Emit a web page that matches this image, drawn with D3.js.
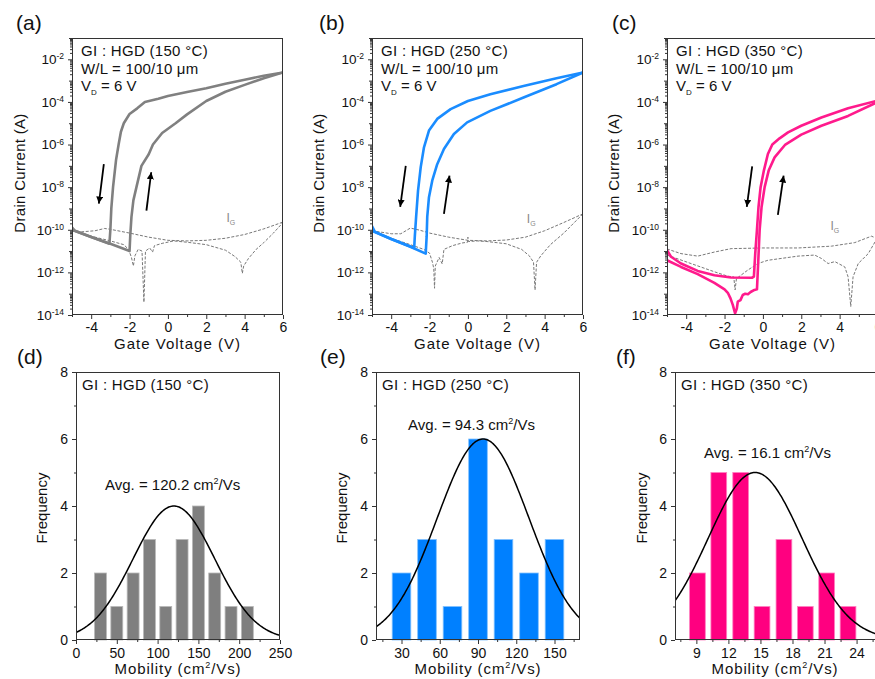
<!DOCTYPE html>
<html><head><meta charset="utf-8">
<script src="https://cdn.jsdelivr.net/npm/d3@7"></script>
<style>
body{margin:0;background:#fff;}
svg{display:block;font-family:"Liberation Sans",Arial,Helvetica,sans-serif;}
</style></head><body>
<svg id="c" width="875" height="679"></svg>
<script>
// ---------- DATA ----------
// Transfer curves: [gate voltage (V), drain current (A)]
const aReverse = [[6,2.4e-3],[5,1.7e-3],[4,1.1e-3],[3,7.2e-4],[2,4.4e-4],[1,2.9e-4],[0,1.9e-4],[-0.5,1.4e-4],[-1.2,1e-4],[-1.6,5e-5],[-2,2.7e-5],[-2.3,1e-5],[-2.45,4e-6],[-2.57,1e-6],[-2.7,2e-7],[-2.86,1e-8],[-2.95,1e-9],[-3.0,1e-10],[-3.05,2.2e-11],[-4,4.6e-11],[-4.85,9e-11],[-5,1.3e-10]];
const aForward = [[-5,1.0e-10],[-4,4.6e-11],[-3,2.2e-11],[-2.0,1.0e-11],[-1.96,6e-11],[-1.9,4e-10],[-1.8,2.4e-9],[-1.64,1e-8],[-1.38,1e-7],[-1.0,3.5e-7],[-0.78,1e-6],[-0.3,3.5e-6],[0.4,1e-5],[1,2.6e-5],[2,1.1e-4],[3,3e-4],[4,6.3e-4],[5,1.3e-3],[6,2.4e-3]];
const aGate1 = [[-5,9e-11],[-4.5,8e-11],[-3.8,9e-11],[-3.3,1.15e-10],[-3,1.05e-10],[-2,7e-11],[-1,4.5e-11],[0,3.2e-11],[1,3e-11],[2,3.2e-11],[3,4e-11],[4,6e-11],[5,1.1e-10],[6,2.3e-10]];
const aGate2 = [[-5,9e-11],[-4,5e-11],[-3,3e-11],[-2.3,2e-11],[-2.05,1.2e-11],[-1.9,5e-12],[-1.8,2e-12],[-1.72,6e-12],[-1.55,1.2e-11],[-1.35,1e-11],[-1.25,4e-14],[-1.17,1e-11],[-0.95,1.4e-11],[-0.8,9e-12],[-0.7,1.8e-11],[-0.3,2.3e-11],[0.3,3e-11],[1,2.6e-11],[2,2e-11],[3,1.1e-11],[3.5,5.5e-12],[3.8,3e-12],[3.88,9e-13],[3.95,2e-12],[4.2,4.5e-12],[4.6,1.2e-11],[5,2.5e-11],[5.5,7e-11],[6,2.2e-10]];

const bReverse = [[6,2.4e-3],[4.62,1.3e-3],[2.9,5.6e-4],[1.17,2.3e-4],[0,1.1e-4],[-0.9,4.6e-5],[-1.6,1.6e-5],[-2.03,4.5e-6],[-2.29,7.4e-7],[-2.46,8.7e-8],[-2.6,6.9e-9],[-2.7,4e-10],[-2.77,4.6e-11],[-2.8,1.4e-11],[-4,3.7e-11],[-4.85,8e-11],[-5,1.5e-10]];
const bForward = [[-5,9e-11],[-4,3.7e-11],[-3,1.6e-11],[-2.2,7.6e-12],[-2.15,5e-11],[-2.12,4e-10],[-2.03,3.4e-9],[-1.86,2e-8],[-1.6,1.2e-7],[-1.25,6.2e-7],[-0.73,3.1e-6],[-0.04,1.1e-5],[1.17,3.8e-5],[2.9,1.6e-4],[4.62,6.8e-4],[6,2.4e-3]];
const bGate1 = [[-5,9e-11],[-4,6.5e-11],[-3.5,6.5e-11],[-3.0,1.2e-10],[-2.5,9.5e-11],[-2,7e-11],[-1,4.5e-11],[0,3.2e-11],[1,3e-11],[2,3.3e-11],[3,4.5e-11],[4,9e-11],[5,2.2e-10],[6,5.6e-10]];
const bGate2 = [[-5,9e-11],[-4,4e-11],[-3,2e-11],[-2.3,1.2e-11],[-2.0,8e-12],[-1.85,3e-12],[-1.78,1.5e-12],[-1.74,1.8e-13],[-1.7,2e-12],[-1.5,5e-12],[-1.34,2.5e-12],[-1.25,1.2e-11],[-0.8,1.8e-11],[-0.3,2.4e-11],[-0.02,2.6e-11],[0,4.5e-11],[0.02,2.8e-11],[0.5,3e-11],[1,2.8e-11],[2,2.2e-11],[2.8,1.2e-11],[3.2,6e-12],[3.42,3e-12],[3.5,1.5e-13],[3.58,3e-12],[3.8,6e-12],[4.3,2e-11],[5,7e-11],[6,5.6e-10]];

const cReverse = [[6,1.2e-4],[5.92,1.12e-4],[4.44,5.1e-5],[3.05,1.86e-5],[2.0,7.6e-6],[1.31,3.7e-6],[0.87,1.95e-6],[0.49,1e-6],[0.26,3.6e-7],[0.05,6e-8],[-0.12,1e-8],[-0.23,1.17e-9],[-0.31,1e-10],[-0.4,7.6e-12],[-0.47,6.3e-13],[-0.57,5.6e-13],[-1.66,5.8e-13],[-2.53,7.4e-13],[-3.4,1.17e-12],[-4.27,2.6e-12],[-4.79,5.4e-12],[-5,1.1e-11]];
const cForward = [[-5,3.7e-12],[-4.27,1.8e-12],[-3.4,8.3e-13],[-2.53,3.2e-13],[-2.0,1.6e-13],[-1.83,1.1e-13],[-1.69,6e-14],[-1.57,3e-14],[-1.45,1.2e-14],[-1.36,2e-14],[-1.31,4.2e-14],[-1.17,5e-14],[-1.05,8.7e-14],[-0.92,1e-13],[-0.78,9.5e-14],[-0.64,1.2e-13],[-0.44,1.5e-13],[-0.31,1.6e-13],[-0.24,3.7e-12],[-0.17,1e-10],[-0.07,1.17e-9],[0.09,1e-8],[0.3,6e-8],[0.61,2.5e-7],[1.17,1e-6],[2.0,2.9e-6],[3.05,7.6e-6],[4.44,2.2e-5],[5.92,9.3e-5],[6,1e-4]];
const cGate1 = [[-5,1.26e-11],[-4.27,7.6e-12],[-3.4,5.8e-12],[-2.53,9e-12],[-1.66,1.3e-11],[0,1.4e-11],[1.83,1.4e-11],[3.57,1.7e-11],[4.79,2.5e-11],[5.66,5e-11],[5.92,4e-11],[6,4.2e-11]];
const cGate2 = [[-5,6.5e-12],[-3.75,2.6e-12],[-2.53,1.07e-12],[-1.83,6.6e-13],[-1.52,6.2e-13],[-1.45,1.5e-13],[-1.38,5.1e-13],[-0.78,1.3e-12],[-0.26,2.6e-12],[0.26,3.7e-12],[1.83,5.8e-12],[2.7,6.5e-12],[3.05,4.5e-12],[3.4,2.6e-12],[3.75,3.2e-12],[4.27,1.8e-12],[4.44,6.2e-13],[4.58,2.5e-14],[4.7,6.2e-13],[4.97,2.6e-12],[5.49,7.6e-12],[5.92,3.5e-11],[6,4e-11]];

// sweep-direction arrows: [from, to] in (V, A)
const aArrows = [[[-3.34,1.2e-7],[-3.6,1.7e-9]],[[-1.12,8e-10],[-0.87,5e-8]]];
const bArrows = [[[-3.24,1e-7],[-3.53,1.2e-9]],[[-1.25,5.6e-10],[-0.96,3.5e-8]]];
const cArrows = [[[-0.56,9.5e-8],[-0.84,1.2e-9]],[[0.78,5e-10],[1.08,3.5e-8]]];

const vTicks = [-4,-2,0,2,4,6];
const vMinor = [-5,-3,-1,1,3,5];
const decadeLabels = [1e-14,1e-12,1e-10,1e-8,1e-6,1e-4,1e-2];
const temps = ["150","250","350"];

// Histograms
const dCenters = [30,50,70,90,110,130,150,170,190,210];
const dCounts  = [2,1,2,3,1,3,4,2,1,1];
const eCenters = [30,50,70,90,110,130,150];
const eCounts  = [2,3,1,6,3,2,3];
const fCenters = [9.1,11.1,13.15,15.15,17.2,19.2,21.2,23.2];
const fCounts  = [2,5,5,1,3,1,2,1];
// Gaussian fits: [amplitude, mean, sigma]
const dFit = [4,120,50];
const eFit = [6,94,36];
const fFit = [5,14.5,4.4];
const averages = ["120.2","94.3","16.1"];
const freqTicks = [0,2,4,6,8];
const freqMinor = [1,3,5,7];

// ---------- DRAWING ----------
const svg = d3.select("#c");
const AX = "#333";
const defs = svg.append("defs");
defs.append("marker").attr("id","ah").attr("viewBox","0 0 10 10")
  .attr("refX",10).attr("refY",5).attr("markerUnits","userSpaceOnUse")
  .attr("markerWidth",7).attr("markerHeight",7).attr("orient","auto")
  .append("path").attr("d","M0,0 L10,5 L0,10 Z").attr("fill","#000");

function txt(g, x, y, s, size, opts={}) {
  const t = g.append("text").attr("x",x).attr("y",y).attr("font-size",size)
    .attr("fill",opts.fill||"#111").text(s);
  if (opts.anchor) t.attr("text-anchor",opts.anchor);
  if (opts.ls) t.attr("letter-spacing",opts.ls);
  if (opts.rot) t.attr("transform",`rotate(-90,${x},${y})`);
  return t;
}

const topPanels = [
  {left:72,right:283,color:"#808080",rev:aReverse,fwd:aForward,g1:aGate1,g2:aGate2,arrows:aArrows,tag:"(a)",tagX:16,titleX:25,ig:[3.05,2.2e-10]},
  {left:372,right:583,color:"#1a8cff",rev:bReverse,fwd:bForward,g1:bGate1,g2:bGate2,arrows:bArrows,tag:"(b)",tagX:319,titleX:324,ig:[3.07,2.1e-10]},
  {left:667,right:878,color:"#ff1a8c",rev:cReverse,fwd:cForward,g1:cGate1,g2:cGate2,arrows:cArrows,tag:"(c)",tagX:612,titleX:619,ig:[3.52,9.3e-11]}
];
const TOP=38, BOT=315;
const TICK=13;

topPanels.forEach((p,i)=>{
  const g = svg.append("g");
  const x = d3.scaleLinear().domain([-5,6]).range([p.left,p.right]);
  const y = d3.scaleLog().domain([1e-14,1e-1]).range([BOT,TOP]);
  const cid = "clipT"+i;
  defs.append("clipPath").attr("id",cid).append("rect")
    .attr("x",p.left).attr("y",TOP).attr("width",p.right-p.left).attr("height",BOT-TOP);

  // minor y ticks
  const minors = [];
  for (let e=-14;e<=-2;e++) for (let m=2;m<=9;m++){const v=m*Math.pow(10,e); if(v<=1e-1) minors.push(v);}
  g.append("g").attr("transform",`translate(${p.left},0)`).attr("color",AX)
    .call(d3.axisLeft(y).tickValues(minors).tickSize(2).tickSizeOuter(0).tickFormat(()=>""))
    .call(s=>s.select(".domain").remove());
  const odd = [1e-13,1e-11,1e-9,1e-7,1e-5,1e-3,1e-1];
  g.append("g").attr("transform",`translate(${p.left},0)`).attr("color",AX)
    .call(d3.axisLeft(y).tickValues(odd).tickSize(3).tickSizeOuter(0).tickFormat(()=>""))
    .call(s=>s.select(".domain").remove());
  const ya = g.append("g").attr("transform",`translate(${p.left},0)`).attr("color",AX)
    .call(d3.axisLeft(y).tickValues(decadeLabels).tickSize(4).tickSizeOuter(0).tickPadding(4).tickFormat(()=>"10"));
  ya.select(".domain").remove();
  ya.selectAll(".tick text").attr("font-size",TICK+0.5).attr("fill","#111").attr("font-family",null)
    .each(function(d){
      const e = Math.round(Math.log10(d));
      d3.select(this).append("tspan").attr("dy","-0.55em").attr("font-size",8.5).text(String(e));
    });

  // x axis
  g.append("g").attr("transform",`translate(0,${BOT})`).attr("color",AX)
    .call(d3.axisBottom(x).tickValues(vMinor).tickSize(2).tickSizeOuter(0).tickFormat(()=>""))
    .call(s=>s.select(".domain").remove());
  const xa = g.append("g").attr("transform",`translate(0,${BOT})`).attr("color",AX)
    .call(d3.axisBottom(x).tickValues(vTicks).tickSize(4).tickSizeOuter(0).tickPadding(3).tickFormat(d=>String(d)));
  xa.select(".domain").remove();
  xa.selectAll(".tick text").attr("font-size",TICK+1).attr("fill","#111").attr("font-family",null);

  const line = d3.line().x(d=>x(d[0])).y(d=>y(d[1]));
  const pg = g.append("g").attr("clip-path",`url(#${cid})`);
  [p.g1,p.g2].forEach(arr=>{
    pg.append("path").attr("d",line(arr)).attr("fill","none")
      .attr("stroke","#787878").attr("stroke-width",1).attr("stroke-dasharray","3,1.6");
  });
  [p.rev,p.fwd].forEach(arr=>{
    pg.append("path").attr("d",line(arr)).attr("fill","none")
      .attr("stroke",p.color).attr("stroke-width",2.6).attr("stroke-linejoin","round");
  });
  p.arrows.forEach(a=>{
    g.append("line").attr("x1",x(a[0][0])).attr("y1",y(a[0][1]))
      .attr("x2",x(a[1][0])).attr("y2",y(a[1][1]))
      .attr("stroke","#000").attr("stroke-width",1.8).attr("marker-end","url(#ah)");
  });

  // frame
  g.append("rect").attr("x",p.left+0.5).attr("y",TOP+0.5).attr("width",p.right-p.left-1).attr("height",BOT-TOP-1)
    .attr("fill","none").attr("stroke",AX).attr("stroke-width",1);

  // texts
  const tx = p.left+9;
  txt(g,tx,56,`GI : HGD (${temps[i]} °C)`,15,{ls:0.3});
  txt(g,tx,74,"W/L = 100/10 μm",15,{ls:0.2});
  const vt = txt(g,tx,91,"V",15);
  vt.append("tspan").attr("font-size",8).attr("dy",4).text("D");
  vt.append("tspan").attr("dy",-4).text(" = 6 V");
  const ig = txt(g,x(p.ig[0]),y(p.ig[1]),"I",12,{fill:"#888"});
  ig.append("tspan").attr("font-size",7).attr("dy",3).text("G");
  txt(g,p.tagX,30,p.tag,21);
  txt(g,p.titleX,173,"Drain Current (A)",15,{anchor:"middle",rot:true,ls:0.3});
  txt(g,(p.left+p.right)/2,349,"Gate Voltage (V)",15,{anchor:"middle",ls:1});
});

// bottom histograms
const bottomPanels = [
  {left:76,right:280,dom:[0,250],maj:[0,50,100,150,200,250],min:[25,75,125,175,225],c:dCenters,n:dCounts,bw:20,fill:"#7f7f7f",stroke:"#b8b8b8",fit:dFit,avgX:105,avgY:490,tag:"(d)",tagX:17,titleX:47},
  {left:376,right:580,dom:[10,170],maj:[30,60,90,120,150],min:[15,45,75,105,135,165],c:eCenters,n:eCounts,bw:20,fill:"#0080ff",stroke:"#80c0ff",fit:eFit,avgX:408,avgY:430,tag:"(e)",tagX:320,titleX:347},
  {left:675,right:879,dom:[7,26.1],maj:[9,12,15,18,21,24],min:[7.5,10.5,13.5,16.5,19.5,22.5,25.5],c:fCenters,n:fCounts,bw:2.02,fill:"#ff0080",stroke:"#ff80c0",fit:fFit,avgX:704,avgY:458,tag:"(f)",tagX:616,titleX:647}
];
const BT=372, BB=640;
bottomPanels.forEach((p,i)=>{
  const g = svg.append("g");
  const x = d3.scaleLinear().domain(p.dom).range([p.left,p.right]);
  const y = d3.scaleLinear().domain([0,8]).range([BB,BT]);
  const cid = "clipB"+i;
  defs.append("clipPath").attr("id",cid).append("rect")
    .attr("x",p.left).attr("y",BT).attr("width",p.right-p.left).attr("height",BB-BT);

  const ratio = 0.73;
  g.selectAll("rect.bar").data(p.c.map((c,k)=>[c,p.n[k]])).join("rect").attr("class","bar")
    .attr("x",d=>x(d[0]-p.bw*ratio/2)).attr("width",d=>x(d[0]+p.bw*ratio/2)-x(d[0]-p.bw*ratio/2))
    .attr("y",d=>y(d[1])).attr("height",d=>y(0)-y(d[1]))
    .attr("fill",p.fill).attr("stroke",p.stroke).attr("stroke-width",0.8);

  const [A,mu,sg] = p.fit;
  const xs = d3.range(p.dom[0],p.dom[1]+1e-9,(p.dom[1]-p.dom[0])/200);
  const pts = xs.map(v=>[v,A*Math.exp(-((v-mu)**2)/(2*sg*sg))]);
  g.append("path").attr("clip-path",`url(#${cid})`)
    .attr("d",d3.line().x(d=>x(d[0])).y(d=>y(d[1]))(pts))
    .attr("fill","none").attr("stroke","#000").attr("stroke-width",1.5);

  g.append("g").attr("transform",`translate(${p.left},0)`).attr("color",AX)
    .call(d3.axisLeft(y).tickValues(freqMinor).tickSize(2).tickSizeOuter(0).tickFormat(()=>""))
    .call(s=>s.select(".domain").remove());
  const ya = g.append("g").attr("transform",`translate(${p.left},0)`).attr("color",AX)
    .call(d3.axisLeft(y).tickValues(freqTicks).tickSize(4).tickSizeOuter(0).tickPadding(4).tickFormat(d=>String(d)));
  ya.select(".domain").remove();
  ya.selectAll(".tick text").attr("font-size",TICK+1).attr("fill","#111").attr("font-family",null);

  g.append("g").attr("transform",`translate(0,${BB})`).attr("color",AX)
    .call(d3.axisBottom(x).tickValues(p.min).tickSize(2).tickSizeOuter(0).tickFormat(()=>""))
    .call(s=>s.select(".domain").remove());
  const xa = g.append("g").attr("transform",`translate(0,${BB})`).attr("color",AX)
    .call(d3.axisBottom(x).tickValues(p.maj).tickSize(4).tickSizeOuter(0).tickPadding(4).tickFormat(d=>String(d)));
  xa.select(".domain").remove();
  xa.selectAll(".tick text").attr("font-size",TICK+1).attr("fill","#111").attr("font-family",null);

  g.append("rect").attr("x",p.left+0.5).attr("y",BT+0.5).attr("width",p.right-p.left-1).attr("height",BB-BT-1)
    .attr("fill","none").attr("stroke",AX).attr("stroke-width",1);

  txt(g,p.left+6,390,`GI : HGD (${temps[i]} °C)`,15,{ls:0.3});
  const av = txt(g,p.avgX,p.avgY,`Avg. = ${averages[i]} cm`,15);
  av.append("tspan").attr("font-size",9).attr("dy",-6).text("2");
  av.append("tspan").attr("dy",6).text("/Vs");
  txt(g,p.tagX,364,p.tag,21);
  txt(g,p.titleX,508,"Frequency",15,{anchor:"middle",rot:true});
  const mt = txt(g,(p.left+p.right)/2 + (i===2? -2:0),674,"Mobility (cm",15,{anchor:"middle",ls:0.9});
  mt.append("tspan").attr("font-size",9).attr("dy",-6).text("2");
  mt.append("tspan").attr("dy",6).text("/Vs)");
});
</script>
</body></html>
